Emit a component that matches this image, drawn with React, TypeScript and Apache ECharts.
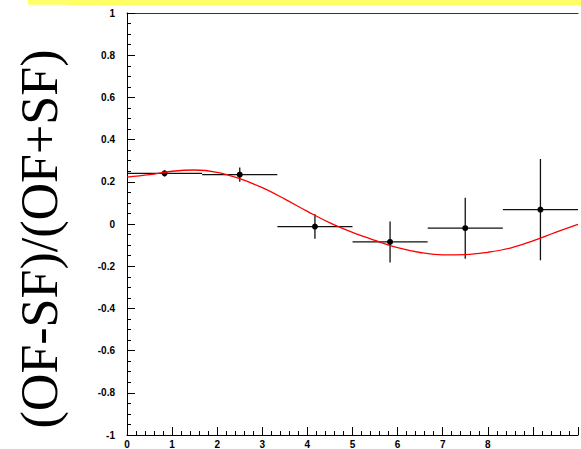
import React, { useEffect, useRef } from "react";
import * as echarts from "echarts";

// Measured asymmetry per bin
const binCenters = [0.833, 2.5, 4.167, 5.833, 7.5, 9.167];
const binHalfWidths = [0.833, 0.833, 0.833, 0.833, 0.833, 0.833];
const asymValues = [0.24, 0.234, -0.012, -0.085, -0.02, 0.068];
const asymErrors = [0.014, 0.034, 0.058, 0.097, 0.145, 0.24];

// Fitted curve, sampled along x
const fitX = [0, 0.5, 1, 1.5, 2, 2.5, 3, 3.5, 4, 4.5, 5, 5.5, 6, 6.5, 7, 7.5, 8, 8.5, 9, 9.5, 10];
const fitY = [
  0.222, 0.234, 0.25, 0.256, 0.245, 0.215, 0.172, 0.118, 0.06, 0.005, -0.04,
  -0.078, -0.112, -0.135, -0.146, -0.145, -0.134, -0.114, -0.08, -0.04, -0.002,
];

// Labelled x ticks (the rest of the axis carries ticks only)
const xTickLabels = ["0", "1", "2", "3", "4", "5", "6", "7", "8"];

const yTitle = "(OF-SF)/(OF+SF)";

export default function App() {
  const ref = useRef<HTMLDivElement>(null);

  useEffect(() => {
    if (!ref.current) return;
    const chart = echarts.init(ref.current, null, { renderer: "svg" });

    const points = binCenters.map((x, i) => [x, asymValues[i], asymErrors[i], binHalfWidths[i]]);
    const fit = fitX.map((x, i) => [x, fitY[i]]);

    const labelFont = {
      fontFamily: "Liberation Sans, Arial, sans-serif",
      fontWeight: "bold" as const,
      fontSize: 10,
      color: "#000",
    };

    chart.setOption({
      animation: false,
      backgroundColor: "#fff",
      grid: { left: 127, top: 13, width: 456.6, height: 422.7, containLabel: false },
      xAxis: [
        {
          type: "value",
          min: 0,
          max: 10,
          interval: 1,
          position: "bottom",
          axisLine: { show: true, onZero: false, lineStyle: { color: "#000", width: 1 } },
          axisTick: { show: true, inside: true, length: 8, lineStyle: { color: "#000" } },
          minorTick: { show: true, splitNumber: 5, length: 4, lineStyle: { color: "#000" } },
          splitLine: { show: false },
          axisLabel: {
            ...labelFont,
            margin: 4,
            formatter: (v: number) => {
              const s = String(Math.round(v));
              return xTickLabels.includes(s) ? s : "";
            },
          },
        },
        {
          type: "value",
          min: 0,
          max: 10,
          position: "top",
          axisLine: { show: true, onZero: false, lineStyle: { color: "#333", width: 1 } },
          axisTick: { show: false },
          axisLabel: { show: false },
          splitLine: { show: false },
        },
      ],
      yAxis: {
        type: "value",
        min: -1,
        max: 1,
        interval: 0.2,
        axisLine: { show: true, onZero: false, lineStyle: { color: "#000", width: 1 } },
        axisTick: { show: true, inside: true, length: 8, lineStyle: { color: "#000" } },
        minorTick: { show: true, splitNumber: 4, length: 4, lineStyle: { color: "#000" } },
        splitLine: { show: false },
        axisLabel: {
          ...labelFont,
          margin: 12,
          formatter: (v: number) => String(parseFloat(v.toFixed(1))),
        },
      },
      graphic: [
        { type: "rect", shape: { x: 28, y: 0, width: 40, height: 4.7 }, style: { fill: "#ffff66" } },
        { type: "rect", shape: { x: 68, y: 0, width: 513, height: 5.3 }, style: { fill: "#ffff66" } },
        {
          type: "text",
          x: 39,
          y: 239,
          rotation: Math.PI / 2,
          style: {
            text: yTitle,
            fontFamily: "Liberation Serif, Times New Roman, serif",
            fontSize: 52,
            fill: "#000",
            align: "center",
            verticalAlign: "middle",
          },
        },
      ],
      series: [
        {
          type: "custom",
          xAxisIndex: 0,
          data: points,
          encode: { x: 0, y: 1 },
          z: 2,
          renderItem: (_params: any, api: any) => {
            const x = api.value(0);
            const y = api.value(1);
            const e = api.value(2);
            const hw = api.value(3);
            const l = api.coord([x - hw, y]);
            const r = api.coord([x + hw, y]);
            const t = api.coord([x, y + e]);
            const b = api.coord([x, y - e]);
            const c = api.coord([x, y]);
            const st = { stroke: "#111", lineWidth: 1.3 };
            return {
              type: "group",
              children: [
                { type: "line", shape: { x1: l[0], y1: l[1], x2: r[0], y2: r[1] }, style: st },
                { type: "line", shape: { x1: t[0], y1: t[1], x2: b[0], y2: b[1] }, style: st },
                { type: "circle", shape: { cx: c[0], cy: c[1], r: 3 }, style: { fill: "#000" } },
              ],
            };
          },
        },
        {
          type: "line",
          xAxisIndex: 0,
          data: fit,
          smooth: 0.4,
          showSymbol: false,
          z: 3,
          lineStyle: { color: "#ff0000", width: 1.3 },
        },
      ],
    });

    return () => chart.dispose();
  }, []);

  return (
    <div
      ref={ref}
      style={{ position: "fixed", left: 0, top: 0, width: 581, height: 449, background: "#fff" }}
    />
  );
}
